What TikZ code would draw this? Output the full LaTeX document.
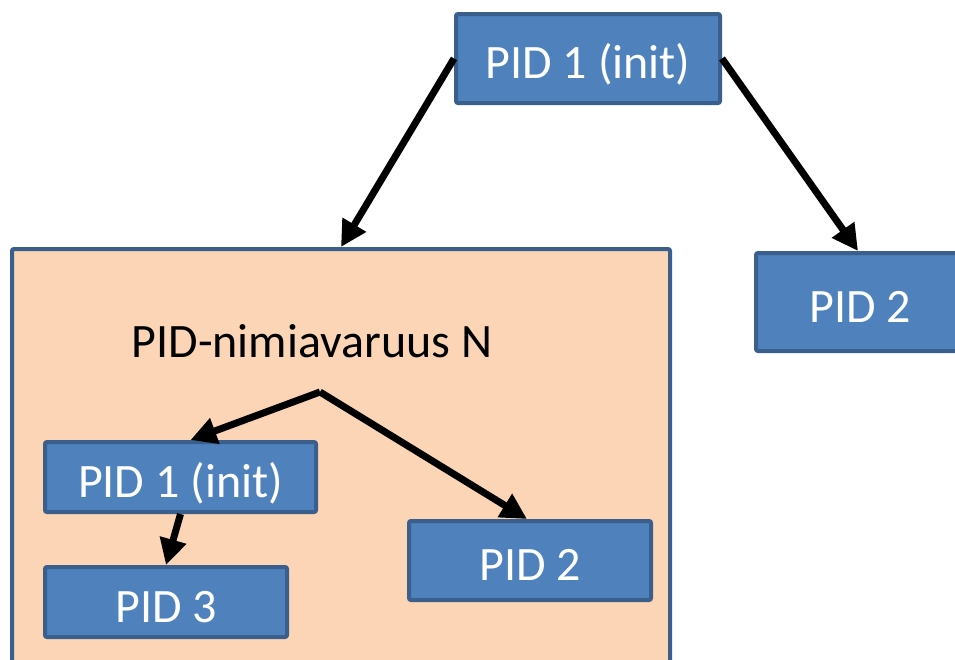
\documentclass[tikz,border=0pt]{standalone}
\usepackage{fontspec}
\setmainfont{Carlito}
\usetikzlibrary{arrows.meta,calc}
\definecolor{boxfill}{HTML}{4F81BD}
\definecolor{boxline}{HTML}{3A5F8C}
\definecolor{nsfill}{HTML}{FBD5B5}
\begin{document}
\begin{tikzpicture}[x=1pt,y=-1pt,
  pidbox/.style={draw=boxline,fill=boxfill,line width=4pt,rounded corners=2pt,
    text=white,font=\fontsize{48}{52}\selectfont,inner sep=0pt,
    text height=40pt,text depth=0pt},
  nsbox/.style={draw=boxline,fill=nsfill,line width=4pt,rounded corners=2pt,inner sep=0pt},
  link/.style={line width=7pt,-{Triangle[length=26pt,width=26pt]}}]
\useasboundingbox (0,0) rectangle (955,659);
% namespace container
\node[nsbox,minimum width=658pt,minimum height=440pt] (ns) at (341,469) {};
\node[font=\fontsize{48}{52}\selectfont] (nslabel) at (312,341) {PID-nimiavaruus N};
\coordinate (fork) at (320,392);
% processes
\node[pidbox,minimum width=264pt,minimum height=89pt] (root) at (588,58.5) {PID 1 (init)};
\node[pidbox,minimum width=208pt,minimum height=98pt] (rtwo) at (860,302) {PID 2};
\node[pidbox,minimum width=271pt,minimum height=70pt] (ninit) at (180.5,477) {PID 1 (init)};
\node[pidbox,minimum width=242pt,minimum height=70pt] (nthree) at (166,602) {PID 3};
\node[pidbox,minimum width=242pt,minimum height=79pt] (ntwo) at (530,560.5) {PID 2};
% parent-child links
\draw[link] (root.west) -- (ns.north);
\draw[link] (root.east) -- ($(rtwo.north)+(-2,0)$);
\draw[link] (fork) -- ($(ninit.north)+(10,0)$);
\draw[link] (fork) -- ($(ntwo.north)+(-3,0)$);
\draw[link] (ninit.south) -- (nthree.north);
\end{tikzpicture}
\end{document}
